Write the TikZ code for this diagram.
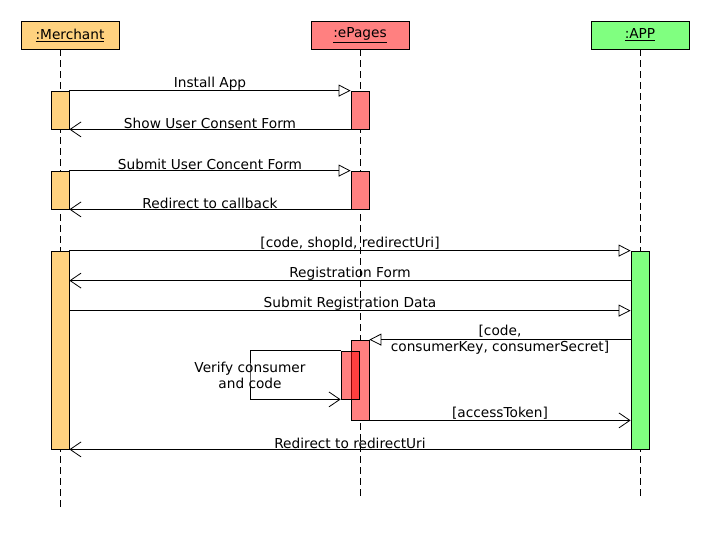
\documentclass[tikz,border=0pt]{standalone}
\usepackage{fontspec}
\setmainfont{DejaVu Sans}
\usetikzlibrary{arrows.meta}
\definecolor{merchantcol}{HTML}{FFD27F}
\definecolor{epagescol}{HTML}{FF8080}
\definecolor{appcol}{HTML}{80FF80}
\tikzset{
	actor/.style={draw, line width=0.8pt, minimum width=98pt, minimum height=28pt, inner sep=0pt},
	lifeline/.style={line width=0.8pt, dash pattern=on 7pt off 4pt},
	bar/.style={draw, line width=0.8pt, minimum width=18pt, inner sep=0pt},
	call/.style={line width=0.8pt, -{Triangle[open, length=12pt, width=12pt]}},
	reply/.style={line width=0.8pt, -{Straight Barb[length=11pt, width=15pt]}},
	msg/.style={above, inner sep=0.3pt},
}
\begin{document}
\begin{tikzpicture}
			[x=1pt, y=-1pt, font=\fontsize{13.7}{16}\selectfont]
			\useasboundingbox (0,0) rectangle (710,550);
			% actors
			\node[actor, fill=merchantcol] (merchant) at (70,35) {\underline{:Merchant}};
			\node[actor, fill=epagescol] (epages) at (360,35) {\underline{:ePages}};
			\node[actor, fill=appcol] (app) at (640,35) {\underline{:APP}};
			\coordinate (mtop) at (60,49);
			\coordinate (mend) at (60,510);
			\coordinate (eend) at (360,500);
			\coordinate (aend) at (640,497);
			\draw[lifeline] (mtop) -- (mend);
			\draw[lifeline] (epages.south) -- (eend);
			\draw[lifeline] (app.south) -- (aend);
			% activations
			\node[bar, fill=merchantcol, minimum height=38pt] (m1) at (60,110) {};
			\node[bar, fill=merchantcol, minimum height=38pt] (m2) at (60,190) {};
			\node[bar, fill=merchantcol, minimum height=198pt] (m3) at (60,350) {};
			\node[bar, fill=epagescol, minimum height=38pt] (e1) at (360,110) {};
			\node[bar, fill=epagescol, minimum height=38pt] (e2) at (360,190) {};
			\node[bar, fill=epagescol, minimum height=80pt] (e3) at (360,380) {};
			\node[bar, fill=red, fill opacity=0.5, minimum height=48pt] (e4) at (350,375) {};
			\node[bar, fill=appcol, minimum height=198pt] (a1) at (640,350) {};
			% messages
			\draw[call] (m1.north east) -- node[msg] {Install App} (e1.north west);
			\draw[reply] (e1.south west) -- node[msg] {Show User Consent Form} (m1.south east);
			\draw[call] (m2.north east) -- node[msg] {Submit User Concent Form} (e2.north west);
			\draw[reply] (e2.south west) -- node[msg] {Redirect to callback} (m2.south east);
			\draw[call] (m3.north east) -- node[msg] {[code, shopId, redirectUri]} (a1.north west);
			\draw[reply] ([yshift=-30pt]a1.north west) -- node[msg] {Registration Form} ([yshift=-30pt]m3.north east);
			\draw[call] ([yshift=-60pt]m3.north east) -- node[msg] {Submit Registration Data} ([yshift=-60pt]a1.north west);
			\draw[call] ([yshift=-89pt]a1.north west) -- node[align=center, inner sep=0pt] {[code,\\consumerKey, consumerSecret]} (e3.north east);
			\coordinate (vc) at (250,375);
			\draw[reply] (e4.north west) -| (vc) |- (e4.south west);
			\node[align=center, inner sep=0pt] (verify) at (vc) {Verify consumer\\and code};
			\draw[reply] (e3.south east) -- node[msg] {[accessToken]} ([yshift=29pt]a1.south west);
			\draw[reply] (a1.south west) -- node[msg] {Redirect to redirectUri} (m3.south east);
			\end{tikzpicture}
\end{document}
